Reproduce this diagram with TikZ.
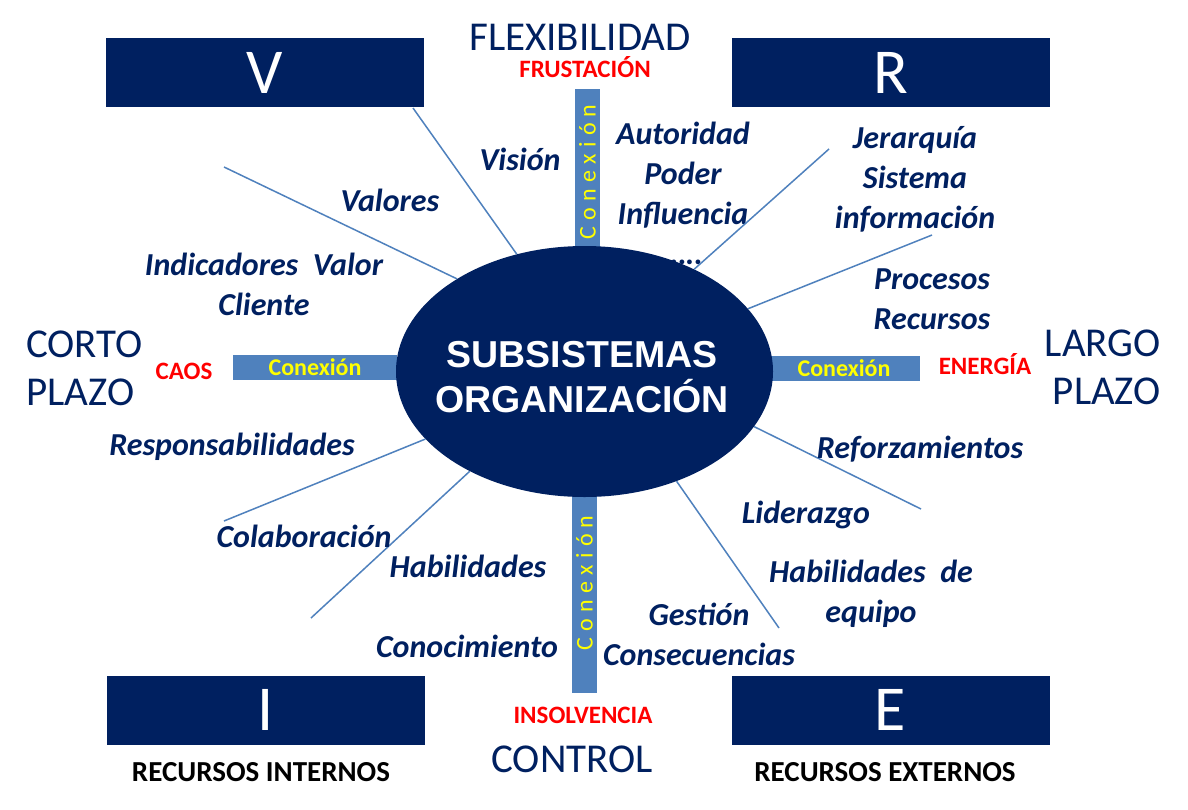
\documentclass[tikz,border=0pt]{standalone}
\usepackage{fontspec}
\setmainfont{Carlito}
\newfontfamily\arialfont{Liberation Sans}
\usepackage{tikz}
\usetikzlibrary{shapes.geometric}
\definecolor{navyorg}{RGB}{0,32,96}
\definecolor{barblue}{RGB}{79,129,189}
\definecolor{conexyellow}{RGB}{255,255,0}
\definecolor{alertred}{RGB}{255,0,0}
\newcommand{\conexspaced}{C\kern6.3pt o\kern6.3pt n\kern6.3pt e\kern6.3pt x\kern6.3pt i\kern6.3pt ó\kern6.3pt n}

\begin{document}
\begin{tikzpicture}[x=1pt, y=-1pt, every node/.style={inner sep=0pt},
  letterbox/.style={fill=navyorg, text=white, minimum width=318pt, minimum height=69pt, font=\fontsize{64}{70}\selectfont},
  hbar/.style={fill=barblue, text=conexyellow, minimum height=25pt, font=\bfseries\fontsize{24}{26}\selectfont},
  vbar/.style={fill=barblue, text=conexyellow, rotate=90, minimum height=25pt, font=\fontsize{24}{26}\selectfont},
  itemtxt/.style={text=navyorg, font=\bfseries\itshape\fontsize{32}{40}\selectfont},
  poletxt/.style={text=navyorg, font=\fontsize{41}{48}\selectfont},
  risktxt/.style={text=alertred, font=\bfseries\fontsize{25}{28}\selectfont},
  restxt/.style={text=black, font=\bfseries\fontsize{29}{32}\selectfont},
  spoke/.style={draw=barblue, line width=1.5pt}]
\fill[white] (0,0) rectangle (1188,809);
\useasboundingbox (0,0) rectangle (1188,809);

\node[letterbox] (boxV) at (264.5,72.5) {V};
\node[letterbox] (boxR) at (891,72.5) {R};
\node[letterbox] (boxI) at (265.5,710) {I};
\node[letterbox] (boxE) at (890.5,710) {E};

\node[hbar, minimum width=164pt] (barL) at (315,367.5) {Conexión};
\node[hbar, minimum width=152pt] (barR) at (844,368.5) {Conexión};
\node[vbar, minimum width=166pt] (barT) at (587.5,172) {\conexspaced};
\node[vbar, minimum width=220pt] (barB) at (584.5,583) {\conexspaced};

\node[itemtxt, align=center] (autoridad) at (683,193) {Autoridad\\Poder\\Influencia\\…..};

\node[ellipse, fill=navyorg, minimum width=377pt, minimum height=251pt] (core) at (584.5,371.5) {};
\node[text=white, align=center, font=\arialfont\bfseries\fontsize{37.5}{45}\selectfont] (coretxt) at (582,377) {SUBSISTEMAS\\ORGANIZACIÓN};

\coordinate (sVision) at (413,108);
\coordinate (sValores) at (224,167);
\coordinate (sAutor) at (829,149);
\coordinate (sProc) at (932,235);
\coordinate (sReforz) at (921,509);
\coordinate (sGestion) at (779,628);
\coordinate (sColab) at (224,521);
\coordinate (sHabil) at (311,618);
\draw[spoke] (sVision) -- (core.120.2);
\draw[spoke] (sValores) -- (core.144.8);
\draw[spoke] (sAutor) -- (core.43.1);
\draw[spoke] (sProc) -- (core.21.2);
\draw[spoke] (sReforz) -- (core.-18.1);
\draw[spoke] (sGestion) -- (core.-50.1);
\draw[spoke] (sColab) -- (core.203.1);
\draw[spoke] (sHabil) -- (core.221.8);

\node[itemtxt, anchor=base] (vision) at (520,170) {Visión};
\node[itemtxt, align=center] (jerarquia) at (915,179) {Jerarquía\\Sistema\\información};
\node[itemtxt, anchor=base] (valores) at (390,211) {Valores};
\node[itemtxt, align=center] (indicadores) at (264,284) {Indicadores~ Valor\\Cliente};
\node[itemtxt, align=center] (procesos) at (932,299) {Procesos\\Recursos};
\node[itemtxt, anchor=base] (respons) at (232,455) {Responsabilidades};
\node[itemtxt, anchor=base] (colab) at (304,547) {Colaboración};
\node[itemtxt, anchor=base] (habil) at (468,577) {Habilidades};
\node[itemtxt, anchor=base] (conoc) at (467,657) {Conocimiento};
\node[itemtxt, anchor=base] (reforz) at (920,458) {Reforzamientos};
\node[itemtxt, anchor=base] (lider) at (806,523) {Liderazgo};
\node[itemtxt, align=center] (habequipo) at (871,594) {Habilidades~ de\\equipo};
\node[itemtxt, align=center] (gestion) at (699,634) {Gestión\\Consecuencias};

\node[poletxt, anchor=base] (flex) at (580,50) {FLEXIBILIDAD};
\node[poletxt, align=left, anchor=west] (corto) at (26,368) {CORTO\\PLAZO};
\node[poletxt, align=right, anchor=east] (largo) at (1161,367) {LARGO\\PLAZO};
\node[poletxt, anchor=base] (control) at (572,772) {CONTROL};

\node[risktxt, anchor=base] (frust) at (585,77) {FRUSTACIÓN};
\node[risktxt, anchor=base] (caos) at (184,379) {CAOS};
\node[risktxt, anchor=base] (energia) at (985,374) {ENERGÍA};
\node[risktxt, anchor=base] (insolv) at (583,723) {INSOLVENCIA};

\node[restxt, anchor=base] (recint) at (261,781) {RECURSOS INTERNOS};
\node[restxt, anchor=base] (recext) at (885,781) {RECURSOS EXTERNOS};
\end{tikzpicture}
\end{document}
